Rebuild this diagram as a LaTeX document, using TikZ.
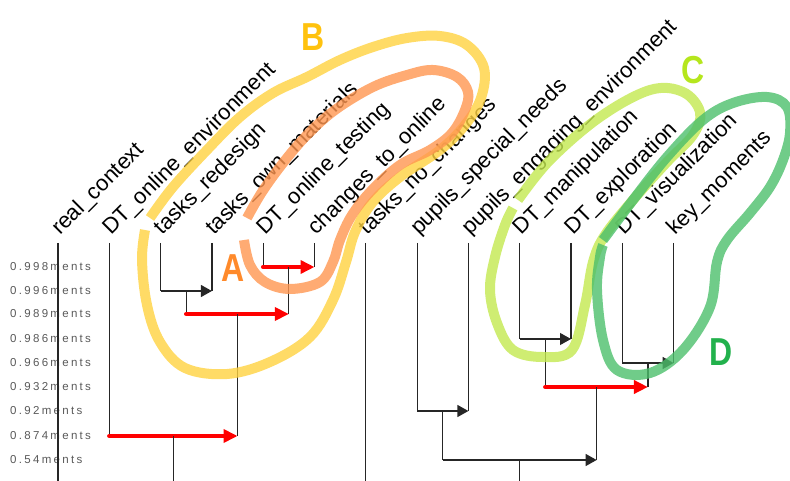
\documentclass[tikz,border=0pt]{standalone}
\usepackage{fontspec}
\setmainfont{Liberation Sans}
\newfontfamily\axisfont[LetterSpace=20]{Liberation Sans}
\usetikzlibrary{arrows.meta, calc}
\definecolor{HullA}{HTML}{FF9650}
\definecolor{HullB}{HTML}{FFD240}
\definecolor{HullC}{HTML}{C3E84F}
\definecolor{HullD}{HTML}{4CBF6B}
\definecolor{TagA}{HTML}{FF8A2B}
\definecolor{TagB}{HTML}{FFC20E}
\definecolor{TagC}{HTML}{B5E61D}
\definecolor{TagD}{HTML}{22B14C}

\begin{document}
\begin{tikzpicture}[x=1pt, y=-1pt,
    leaf/.style={rotate=45, anchor=base west, inner sep=0pt, font=\fontsize{22}{26}\selectfont},
    cut/.style={anchor=west, inner sep=0pt, text=black!65, font=\axisfont\fontsize{11.5}{12}\selectfont},
    link/.style={line width=1.2pt, black!85},
    merge/.style={link, -{Triangle[length=11pt, width=12pt]}},
    redmerge/.style={line width=4.5pt, red, line cap=round, -{Triangle[length=14pt, width=13pt]}},
    hull/.style={line width=10pt, opacity=.8},
    tag/.style={inner sep=0pt, font=\fontsize{39}{40}\selectfont\bfseries}
]
\useasboundingbox (0,0) rectangle (790,481);

% leaves
\foreach \txt [count=\i from 0] in {real\_context, DT\_online\_environment, tasks\_redesign,
    tasks\_own\_materials, DT\_online\_testing, changes\_to\_online, tasks\_no\_changes,
    pupils\_special\_needs, pupils\_engaging\_environment, DT\_manipulation,
    DT\_exploration, DT\_visualization, key\_moments} {
  \coordinate (l\i) at (58+51.3*\i, 243);
  \node[leaf] (t\i) at ($(l\i)+(2,-7)$) {\txt};
}

% heights
\foreach \val/\yy [count=\k from 0] in {0.998/267, 0.996/291, 0.989/314, 0.986/339,
    0.966/363, 0.932/387, 0.92/411, 0.874/436, 0.54/460}
  \node[cut] (a\k) at (10,\yy) {\val ments};

% merge points (midpoints of the joined branches)
\coordinate (m1) at (288.85,267);
\coordinate (m2) at (186.25,291);
\coordinate (m3) at (237.55,314);
\coordinate (m4) at (545.35,339);
\coordinate (m5) at (647.95,363);
\coordinate (m6) at (596.65,387);
\coordinate (m7) at (442.75,411);
\coordinate (m8) at (173.43,436);
\coordinate (m9) at (519.7,460);
\coordinate (bot) at (0,481);

\draw[link] (l4) -- (l4 |- m1);
\draw[link] (l5) -- (l5 |- m1);
\draw[redmerge] (l4 |- m1) -- (l5 |- m1);

\draw[link] (l2) -- (l2 |- m2);
\draw[link] (l3) -- (l3 |- m2);
\draw[merge] (l2 |- m2) -- (l3 |- m2);

\draw[link] (m2) -- (m2 |- m3);
\draw[link] (m1) -- (m1 |- m3);
\draw[redmerge] (m2 |- m3) -- (m1 |- m3);

\draw[link] (l9) -- (l9 |- m4);
\draw[link] (l10) -- (l10 |- m4);
\draw[merge] (l9 |- m4) -- (l10 |- m4);

\draw[link] (l11) -- (l11 |- m5);
\draw[link] (l12) -- (l12 |- m5);
\draw[merge] (l11 |- m5) -- (l12 |- m5);

\draw[link] (m4) -- (m4 |- m6);
\draw[link] (m5) -- (m5 |- m6);
\draw[redmerge] (m4 |- m6) -- (m5 |- m6);

\draw[link] (l7) -- (l7 |- m7);
\draw[link] (l8) -- (l8 |- m7);
\draw[merge] (l7 |- m7) -- (l8 |- m7);

\draw[link] (l1) -- (l1 |- m8);
\draw[link] (m3) -- (m3 |- m8);
\draw[redmerge] (l1 |- m8) -- (m3 |- m8);

\draw[link] (m7) -- (m7 |- m9);
\draw[link] (m6) -- (m6 |- m9);
\draw[merge] (m7 |- m9) -- (m6 |- m9);

\draw[link] (l0) -- (l0 |- bot);
\draw[link] (l6) -- (l6 |- bot);
\draw[link] (m8) -- (m8 |- bot);
\draw[link] (m9) -- (m9 |- bot);

% groups
\draw[hull, HullB] plot[smooth, tension=.6] coordinates {(150,218) (173,187) (207,150)
  (240,117) (273,93) (307,77) (340,60) (373,47) (407,38) (440,36) (467,45) (484,68)
  (481,98) (465,125) (440,150) (400,177) (372,203) (355,232) (346,262) (333,300)
  (310,337) (270,362) (227,374) (185,368) (160,342) (147,305) (142,260) (145,230)};
\draw[hull, HullA] plot[smooth, tension=.6] coordinates {(247,218) (262,192) (283,163)
  (307,135) (335,110) (373,87) (407,75) (433,70) (457,77) (468,92) (465,110) (452,133)
  (430,150) (400,165) (372,190) (352,215) (340,240) (333,262) (320,282) (290,289)
  (265,282) (250,265) (244,240)};
\draw[hull, HullC] plot[smooth, tension=.6] coordinates {(518,200) (550,160) (600,117)
  (650,90) (683,92) (700,112) (693,135) (667,162) (633,200) (605,235) (593,262)
  (585,305) (572,350) (543,357) (513,350) (497,323) (490,290) (495,257) (505,225)
  (513,208)};
\draw[hull, HullD] plot[smooth, tension=.6] coordinates {(603,240) (633,200) (667,157)
  (703,120) (733,103) (767,97) (787,107) (790,133) (783,160) (770,187) (750,213)
  (727,240) (717,262) (710,307) (683,350) (650,373) (617,370) (603,340) (597,290)
  (600,257) (603,245)};

\node[tag, text=TagA] (ga) at (233,268) {\scalebox{.82}[1]{A}};
\node[tag, text=TagB] (gb) at (313,37) {\scalebox{.82}[1]{B}};
\node[tag, text=TagC] (gc) at (693,70) {\scalebox{.82}[1]{C}};
\node[tag, text=TagD] (gd) at (721,352) {\scalebox{.82}[1]{D}};

\end{tikzpicture}
\end{document}
